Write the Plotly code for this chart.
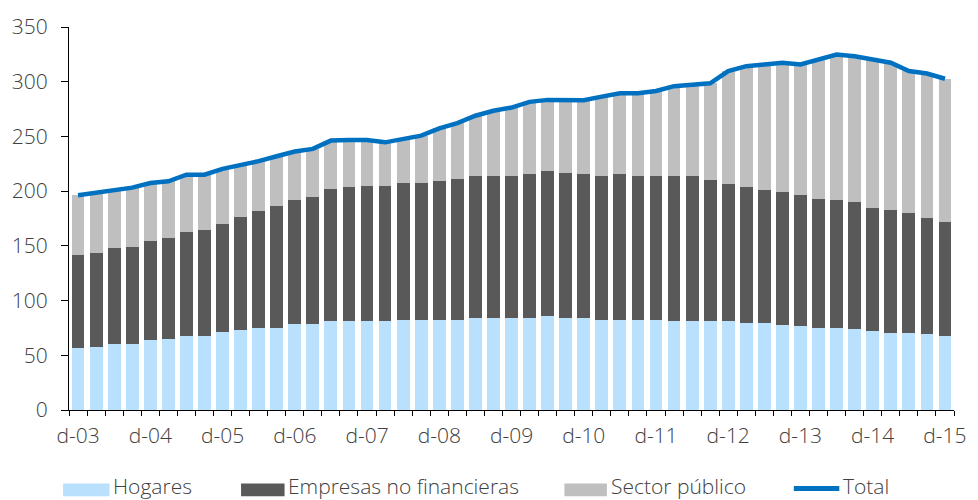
import plotly.graph_objects as go

# Quarterly periods, Dec-2003 .. Dec-2015
years = list(range(2003, 2016))
quarter_prefix = ["m", "j", "s", "d"]
quarters = ["d-03"] + [f"{p}-{str(y)[2:]}" for y in years[1:] for p in quarter_prefix]

# Stacked cumulative levels read from the series
hogares = [56.5, 58.0, 60.7, 60.7, 64.0, 65.2, 68.0, 68.0, 71.3, 72.9, 75.2, 75.2, 78.3, 78.3,
           81.3, 81.3, 81.3, 81.3, 82.5, 82.5, 82.5, 82.5, 83.7, 83.7, 83.7, 83.7, 85.5, 83.7,
           83.7, 82.5, 82.5, 82.5, 82.5, 81.3, 81.3, 81.3, 81.3, 79.5, 79.5, 78.0, 76.5, 75.2,
           75.2, 73.8, 72.5, 70.7, 70.7, 69.2, 68.0]
privado_nf = [141.8, 143.9, 147.8, 149.4, 154.2, 156.8, 163.0, 164.2, 170.2, 176.0, 181.8, 186.3,
              192.3, 194.7, 202.3, 203.8, 204.7, 204.7, 207.7, 207.7, 209.3, 210.8, 213.8, 213.8,
              213.8, 215.3, 218.0, 216.8, 215.3, 213.8, 215.3, 213.8, 213.8, 213.8, 213.8, 210.4,
              206.5, 203.5, 200.8, 199.3, 196.3, 193.2, 192.0, 190.5, 184.8, 183.2, 179.9, 175.7,
              171.4]
total = [196.3, 198.6, 201.4, 203.2, 207.4, 209.0, 215.0, 215.0, 220.4, 223.5, 227.4, 231.9,
         236.2, 238.6, 246.2, 246.7, 246.7, 244.6, 247.6, 250.7, 257.3, 262.2, 268.9, 273.4,
         276.4, 281.6, 283.4, 283.4, 283.0, 286.4, 289.4, 289.4, 291.5, 295.9, 297.4, 298.5,
         309.7, 314.2, 315.7, 317.3, 315.7, 320.3, 324.8, 323.3, 320.3, 317.3, 309.7, 307.5,
         302.7]

empresas = [round(a - b, 1) for a, b in zip(privado_nf, hogares)]
sector_publico = [round(a - b, 1) for a, b in zip(total, privado_nf)]

y_ticks = [0, 50, 100, 150, 200, 250, 300, 350]
series_names = ["Hogares", "Empresas no financieras", "Sector público", "Total"]
colors = ["#B9E0FD", "#595959", "#BFBFBF", "#0070C0"]

x = list(range(len(quarters)))
label_idx = [i for i, q in enumerate(quarters) if q.startswith("d-")]

FONT = "Open Sans"
FSIZE = 21
TXT = "#404040"
tick_font = dict(family=FONT, size=FSIZE, color=TXT, weight=300)

fig = go.Figure()
for name, vals, col in zip(series_names[:3], [hogares, empresas, sector_publico], colors[:3]):
    fig.add_trace(go.Bar(x=x, y=vals, name=name, marker=dict(color=col, line=dict(width=0)),
                         showlegend=False))
fig.add_trace(go.Scatter(x=x, y=total, name=series_names[3], mode="lines",
                         line=dict(color=colors[3], width=4.5), showlegend=False))

# page geometry (pixels) for the hand-placed legend
W, H = 978, 500
ML, MR, MT, MB = 69, 14, 24, 90
PW, PH = W - ML - MR, H - MT - MB


def px_x(px):
    return (px - ML) / PW


def px_y(py):
    return (H - MB - py) / PH


shapes = []
annotations = []
legend_items = [(63, 110, 112), (243, 287, 289), (570, 613, 616), (802, 848, 851)]
for (x0, x1, tx), name, col in zip(legend_items, series_names, colors):
    if name == "Total":
        shapes.append(dict(type="line", xref="paper", yref="paper",
                           x0=px_x(x0), x1=px_x(x1), y0=px_y(489), y1=px_y(489),
                           line=dict(color=col, width=5)))
    else:
        shapes.append(dict(type="rect", xref="paper", yref="paper",
                           x0=px_x(x0), x1=px_x(x1), y0=px_y(497), y1=px_y(484),
                           fillcolor=col, line=dict(width=0)))
    annotations.append(dict(text=name, xref="paper", yref="paper", x=px_x(tx), y=px_y(502),
                            xanchor="left", yanchor="bottom", showarrow=False,
                            borderpad=0,
                            font=dict(family=FONT, size=FSIZE, color=TXT, weight=300)))

fig.update_layout(
    width=W, height=H,
    margin=dict(l=ML, r=MR, t=MT, b=MB, pad=0),
    barmode="stack", bargap=0.29,
    plot_bgcolor="white", paper_bgcolor="white",
    font=dict(family=FONT, size=FSIZE, color=TXT),
    shapes=shapes, annotations=annotations,
    xaxis=dict(range=[-0.5, len(quarters) - 0.5], tickmode="array",
               tickvals=label_idx, ticktext=[quarters[i] for i in label_idx],
               ticks="", showline=True, linecolor="#000000", linewidth=1,
               showgrid=False, zeroline=False, ticklabelstandoff=7,
               tickfont=tick_font,
               minor=dict(ticks="outside", tick0=-0.5, dtick=1, ticklen=5,
                          tickcolor="#000000", tickwidth=1, showgrid=False)),
    yaxis=dict(range=[0, 350], tickmode="array", tickvals=y_ticks,
               ticks="outside", ticklen=7, tickcolor="#000000", tickwidth=1,
               showline=True, linecolor="#000000", linewidth=1,
               showgrid=False, zeroline=False, ticklabelstandoff=9,
               tickfont=tick_font),
)

fig.write_html("out.html")
